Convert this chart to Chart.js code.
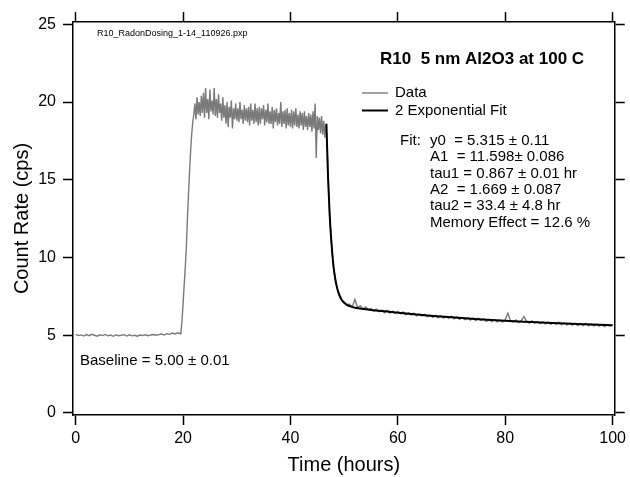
<!DOCTYPE html>
<html>
<head>
<meta charset="utf-8">
<script src="https://cdn.jsdelivr.net/npm/chart.js@4/dist/chart.umd.min.js"></script>
<style>
    html, body { margin: 0; padding: 0; background: #fff; }
    #chart-body { width: 630px; height: 477px; }
</style>
</head>
<body>
<div id="chart-body"><canvas id="chart-radon" width="630" height="477"></canvas></div>
<script>
// tick labels
var timeTicks = [0, 20, 40, 60, 80, 100];
var countTicks = [0, 5, 10, 15, 20, 25];

// baseline before dosing, one reading every 0.5 hr from t = 0
var baselineStart = 0;
var baselineStep = 0.5;
var baselineCounts = [5.05, 4.98, 5.02, 4.95, 5.04, 4.97, 5.06, 5.0, 4.94, 5.03,
    4.98, 5.05, 4.96, 5.01, 4.93, 5.02, 4.97, 5.0, 5.04, 4.95,
    5.03, 4.96, 5.0, 4.94, 5.01, 4.98, 5.03, 4.97, 5.02, 5.05,
    5.0, 5.04, 5.08, 5.02, 5.1, 5.06, 5.14, 5.08, 5.16, 5.1];

// radon switched on
var riseTime = [19.6, 19.8, 20.0, 20.2, 20.4, 20.6, 20.8, 21.0, 21.2, 21.4, 21.6, 21.8, 22.0];
var riseCounts = [5.2, 5.9, 7.0, 8.2, 9.3, 10.6, 12.4, 14.0, 15.5, 16.8, 17.9, 18.7, 19.2];

// dosing plateau, one reading every 0.2 hr from t = 22.2
var plateauStart = 22.2;
var plateauStep = 0.2;
var plateauCounts = [19.9, 18.9, 20.3, 19.2, 20.0, 19.1, 20.4, 19.3, 20.6, 19.0,
    20.9, 19.3, 20.2, 18.9, 20.8, 19.4, 20.1, 19.2, 20.9, 19.1,
    20.2, 19.0, 20.5, 19.3, 19.9, 18.8, 20.3, 19.0, 19.8, 18.6,
    20.0, 18.4, 19.7, 19.0, 20.1, 18.3, 19.6, 18.9, 19.9, 18.8,
    19.6, 18.7, 20.0, 18.9, 19.5, 18.6, 19.8, 18.8, 19.6, 18.7,
    19.7, 18.5, 19.9, 18.8, 19.5, 18.6, 19.9, 18.7, 19.6, 18.5,
    19.7, 18.6, 19.6, 18.9, 19.8, 18.5, 19.5, 18.7, 19.9, 18.6,
    19.4, 18.6, 19.7, 18.3, 19.5, 18.7, 19.6, 18.5, 19.3, 18.6,
    20.0, 18.4, 19.4, 18.6, 19.5, 18.3, 19.6, 18.5, 19.3, 18.4,
    19.5, 18.3, 19.4, 18.5, 19.6, 18.4, 19.2, 18.3, 19.4, 18.5,
    19.3, 18.2, 19.4, 18.4, 19.1, 18.2, 19.3, 18.4, 19.2, 18.1,
    19.4, 18.3, 19.9, 16.4, 19.1, 18.2, 19.0, 18.0, 19.1, 17.9,
    18.8, 17.7, 18.6];

// radon switched off
var dropTime = [46.8, 47.0, 47.3, 47.6, 48.0, 48.4, 48.8, 49.2, 49.6];
var dropCounts = [17.6, 15.3, 12.7, 11.2, 9.4, 8.6, 7.9, 7.6, 7.2];

// memory tail, one reading every 0.5 hr from t = 50
var tailStart = 50;
var tailStep = 0.5;
var tailCounts = [7.15, 6.98, 7.0, 6.82, 7.3, 6.78, 6.9, 6.68, 6.82, 6.65,
    6.72, 6.55, 6.68, 6.52, 6.62, 6.45, 6.6, 6.42, 6.55, 6.4,
    6.52, 6.38, 6.5, 6.32, 6.45, 6.3, 6.42, 6.25, 6.38, 6.24,
    6.35, 6.2, 6.3, 6.15, 6.28, 6.12, 6.25, 6.1, 6.22, 6.08,
    6.22, 6.06, 6.18, 6.02, 6.15, 6.0, 6.12, 5.97, 6.1, 5.95,
    6.1, 5.95, 6.05, 5.9, 6.02, 5.88, 6.0, 5.86, 5.98, 5.84,
    6.0, 6.42, 5.9, 5.85, 5.98, 5.82, 5.95, 6.2, 5.9, 5.78,
    5.92, 5.78, 5.88, 5.74, 5.86, 5.73, 5.84, 5.7, 5.82, 5.7,
    5.84, 5.68, 5.8, 5.66, 5.78, 5.65, 5.77, 5.62, 5.75, 5.62,
    5.76, 5.6, 5.72, 5.6, 5.7, 5.58, 5.7, 5.56, 5.68, 5.58,
    5.66];

// 2 exponential fit
var fitTime = [46.7, 47.0, 47.3, 47.6, 48.0, 48.4, 48.8, 49.2, 49.6, 50, 50.5, 51, 52, 53,
    55, 58, 62, 66, 70, 75, 80, 85, 90, 95, 100];
var fitCounts = [18.6, 15.2, 12.8, 11.1, 9.5, 8.5, 7.9, 7.5, 7.25, 7.08, 6.95, 6.87, 6.77, 6.72,
    6.62, 6.52, 6.38, 6.26, 6.15, 6.03, 5.93, 5.85, 5.77, 5.71, 5.65];

var fontFamily = "'Liberation Sans', Arial, Helvetica, sans-serif";

function stepped(start, step, values) {
    var out = [];
    for (var i = 0; i < values.length; i++) {
        out.push({ x: start + i * step, y: values[i] });
    }
    return out;
}

function paired(times, values) {
    var out = [];
    for (var i = 0; i < values.length; i++) {
        out.push({ x: times[i], y: values[i] });
    }
    return out;
}

// text and legend drawn on top, same as the igor layout
var notesPlugin = {
    id: 'notes',
    afterDraw: function (chart) {
        var ctx = chart.ctx;
        ctx.save();
        ctx.fillStyle = '#000';
        ctx.textBaseline = 'middle';
        ctx.textAlign = 'left';

        ctx.font = '9px ' + fontFamily;
        ctx.fillText('R10_RadonDosing_1-14_110926.pxp', 97, 34);

        ctx.font = 'bold 17px ' + fontFamily;
        ctx.fillText('R10  5 nm Al2O3 at 100 C', 380, 59);

        // legend
        ctx.lineWidth = 1.4;
        ctx.strokeStyle = '#7a7a7a';
        ctx.beginPath();
        ctx.moveTo(362, 93);
        ctx.lineTo(388, 93);
        ctx.stroke();
        ctx.lineWidth = 2;
        ctx.strokeStyle = '#000';
        ctx.beginPath();
        ctx.moveTo(362, 110.5);
        ctx.lineTo(388, 110.5);
        ctx.stroke();

        ctx.font = '15px ' + fontFamily;
        ctx.fillText('Data', 395, 93);
        ctx.fillText('2 Exponential Fit', 395, 110.5);

        var fitLines = ['y0  = 5.315 \u00b1 0.11', 'A1  = 11.598\u00b1 0.086', 'tau1 = 0.867 \u00b1 0.01 hr',
            'A2  = 1.669 \u00b1 0.087', 'tau2 = 33.4 \u00b1 4.8 hr', 'Memory Effect = 12.6 %'];
        ctx.fillText('Fit:', 400, 141);
        for (var i = 0; i < fitLines.length; i++) {
            ctx.fillText(fitLines[i], 430, 141 + i * 16.3);
        }

        ctx.fillText('Baseline = 5.00 \u00b1 0.01', 80, 361);
        ctx.restore();
    }
};

function axisGrid() {
    return {
        drawOnChartArea: false,
        drawTicks: true,
        tickLength: 10,
        tickColor: '#000',
        tickWidth: 1.5
    };
}

function showChart() {
    var ctx = document.getElementById('chart-radon');
    var dataPoints = [].concat(
        stepped(baselineStart, baselineStep, baselineCounts),
        paired(riseTime, riseCounts),
        stepped(plateauStart, plateauStep, plateauCounts),
        paired(dropTime, dropCounts),
        stepped(tailStart, tailStep, tailCounts)
    );
    var fitPoints = paired(fitTime, fitCounts);

    new Chart(ctx, {
        type: 'line',
        data: {
            datasets: [{
                label: 'Data',
                data: dataPoints,
                borderColor: '#7a7a7a',
                borderWidth: 1.4,
                pointRadius: 0,
                tension: 0,
                order: 2,
                xAxisID: 'x',
                yAxisID: 'y'
            }, {
                label: '2 Exponential Fit',
                data: fitPoints,
                borderColor: '#000',
                borderWidth: 2,
                pointRadius: 0,
                cubicInterpolationMode: 'monotone',
                order: 1,
                xAxisID: 'x',
                yAxisID: 'y'
            }]
        },
        options: {
            responsive: false,
            animation: false,
            layout: { padding: 0 },
            plugins: {
                legend: { display: false },
                tooltip: { enabled: false }
            },
            scales: {
                x: {
                    type: 'linear',
                    position: 'bottom',
                    min: -0.5,
                    max: 100.4,
                    border: { color: '#000', width: 1.5 },
                    grid: axisGrid(),
                    ticks: { color: '#000', font: { family: fontFamily, size: 16 }, padding: 4, maxRotation: 0 },
                    title: {
                        display: true, text: 'Time (hours)', color: '#000',
                        font: { family: fontFamily, size: 20 }, padding: { top: 0, bottom: 0 }
                    },
                    afterBuildTicks: function (s) { s.ticks = timeTicks.map(function (v) { return { value: v }; }); },
                    afterFit: function (s) { s.height = 62; }
                },
                x2: {
                    type: 'linear',
                    position: 'top',
                    min: -0.5,
                    max: 100.4,
                    border: { color: '#000', width: 1.5 },
                    grid: axisGrid(),
                    ticks: { display: false },
                    afterBuildTicks: function (s) { s.ticks = timeTicks.map(function (v) { return { value: v }; }); },
                    afterFit: function (s) { s.height = 22; }
                },
                y: {
                    type: 'linear',
                    position: 'left',
                    min: -0.13,
                    max: 25.15,
                    border: { color: '#000', width: 1.5 },
                    grid: axisGrid(),
                    ticks: { color: '#000', font: { family: fontFamily, size: 16 }, padding: 7 },
                    title: {
                        display: true, text: 'Count Rate (cps)', color: '#000',
                        font: { family: fontFamily, size: 20 }, padding: { top: 10, bottom: 0 }
                    },
                    afterBuildTicks: function (s) { s.ticks = countTicks.map(function (v) { return { value: v }; }); },
                    afterFit: function (s) { s.width = 73; }
                },
                y2: {
                    type: 'linear',
                    position: 'right',
                    min: -0.13,
                    max: 25.15,
                    border: { color: '#000', width: 1.5 },
                    grid: axisGrid(),
                    ticks: { display: false },
                    afterBuildTicks: function (s) { s.ticks = countTicks.map(function (v) { return { value: v }; }); },
                    afterFit: function (s) { s.width = 13; }
                }
            }
        },
        plugins: [notesPlugin]
    });
}

showChart();
</script>
</body>
</html>
